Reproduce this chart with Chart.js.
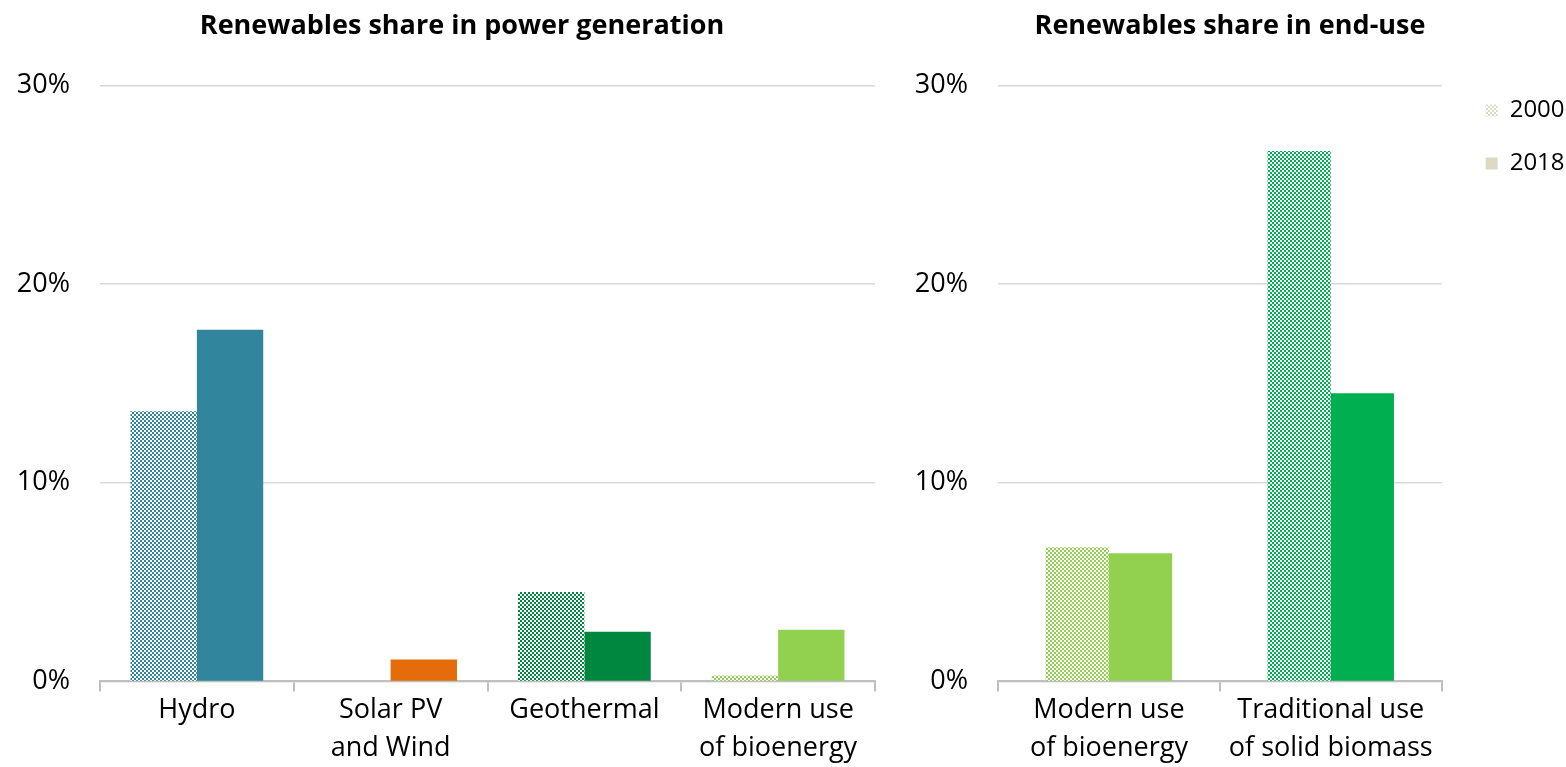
<!DOCTYPE html>
<html>
<head>
<meta charset="utf-8">
<script src="https://cdn.jsdelivr.net/npm/chart.js@4.4.1/dist/chart.umd.min.js"></script>
<style>
  body { margin: 0; background: #fff; overflow: hidden; }
  .box { position: absolute; top: 0; height: 767px; }
  #leftBox { left: 0; width: 924px; }
  #rightBox { left: 890px; width: 680px; }
</style>
</head>
<body>
<div class="box" id="leftBox"><canvas id="powerChart"></canvas></div>
<div class="box" id="rightBox"><canvas id="endUseChart"></canvas></div>
<script>
// Power generation data (share, %)
const powerLabels = [['Hydro'], ['Solar PV', 'and Wind'], ['Geothermal'], ['Modern use', 'of bioenergy']];
const power2000 = [13.6, 0, 4.5, 0.3];
const power2018 = [17.7, 1.1, 2.5, 2.6];
const powerColors = ['#31859c', '#e46c0a', '#00873f', '#92d050'];

// End-use data (share, %)
const endUseLabels = [['Modern use', 'of bioenergy'], ['Traditional use', 'of solid biomass']];
const endUse2000 = [6.75, 26.7];
const endUse2018 = [6.45, 14.5];
const endUseColors = ['#92d050', '#00b050'];

const yTicks = [0, 10, 20, 30];
const legendYears = ['2000', '2018'];
const legendColor = '#ddd9c3';

const FONT = "'Open Sans', sans-serif";

// small checkerboard used for the 2000 bars
function checker(color) {
    const c = document.createElement('canvas');
    c.width = 4; c.height = 4;
    const g = c.getContext('2d');
    g.fillStyle = '#fff';
    g.fillRect(0, 0, 4, 4);
    g.fillStyle = color;
    g.fillRect(0, 0, 2, 2);
    g.fillRect(2, 2, 2, 2);
    return g.createPattern(c, 'repeat');
}

function makeOptions(title, catPct, yWidth, gapWidth, withLegend) {
    return {
        responsive: true,
        maintainAspectRatio: false,
        animation: false,
        layout: { padding: 0 },
        scales: {
            x: {
                grid: {
                    display: true,
                    offset: true,
                    drawOnChartArea: false,
                    drawTicks: true,
                    tickLength: 10,
                    color: '#bfbfbf',
                    lineWidth: 2
                },
                border: { color: '#bfbfbf', width: 2 },
                ticks: {
                    color: '#000',
                    padding: 0,
                    maxRotation: 0,
                    autoSkip: false,
                    font: { family: FONT, size: 27, lineHeight: 1.4 }
                }
            },
            y: {
                min: 0,
                max: 30,
                afterBuildTicks: axis => { axis.ticks = yTicks.map(v => ({ value: v })); },
                afterFit: axis => { axis.width = yWidth; },
                grid: { color: '#d9d9d9', lineWidth: 1.5, drawTicks: false },
                border: { display: false },
                ticks: {
                    color: '#000',
                    padding: 30,
                    font: { family: FONT, size: 27 },
                    callback: v => v + '%'
                }
            },
            // empty spacer on the right of the plot
            gap: {
                type: 'linear',
                position: 'right',
                display: true,
                grid: { display: false },
                border: { display: false },
                ticks: { display: false },
                afterFit: axis => { axis.width = gapWidth; }
            }
        },
        datasets: {
            bar: { categoryPercentage: catPct, barPercentage: 1.0 }
        },
        plugins: {
            title: {
                display: true,
                text: title,
                color: '#000',
                font: { family: FONT, size: 27, weight: 'bold' },
                padding: { top: 10, bottom: 43 }
            },
            tooltip: { enabled: false },
            legend: {
                display: withLegend,
                position: 'right',
                align: 'start',
                title: {
                    display: true,
                    text: '',
                    font: { size: 12 },
                    padding: { top: 0, bottom: 55 }
                },
                labels: {
                    color: '#000',
                    boxWidth: 12,
                    boxHeight: 12,
                    padding: 29,
                    font: { family: FONT, size: 24 },
                    generateLabels: () => legendYears.map((y, i) => ({
                        text: y,
                        fillStyle: i === 0 ? checker(legendColor) : legendColor,
                        strokeStyle: 'rgba(0,0,0,0)',
                        fontColor: '#000',
                        lineWidth: 0,
                        datasetIndex: i
                    }))
                }
            }
        }
    };
}

new Chart(document.getElementById('powerChart'), {
    type: 'bar',
    data: {
        labels: powerLabels,
        datasets: [
            { label: '2000', data: power2000, backgroundColor: powerColors.map(checker) },
            { label: '2018', data: power2018, backgroundColor: powerColors }
        ]
    },
    options: makeOptions('Renewables share in power generation', 0.685, 100, 49, false)
});

new Chart(document.getElementById('endUseChart'), {
    type: 'bar',
    data: {
        labels: endUseLabels,
        datasets: [
            { label: '2000', data: endUse2000, backgroundColor: endUseColors.map(checker) },
            { label: '2018', data: endUse2018, backgroundColor: endUseColors }
        ]
    },
    options: makeOptions('Renewables share in end-use', 0.57, 108, 15, true)
});
</script>
</body>
</html>
